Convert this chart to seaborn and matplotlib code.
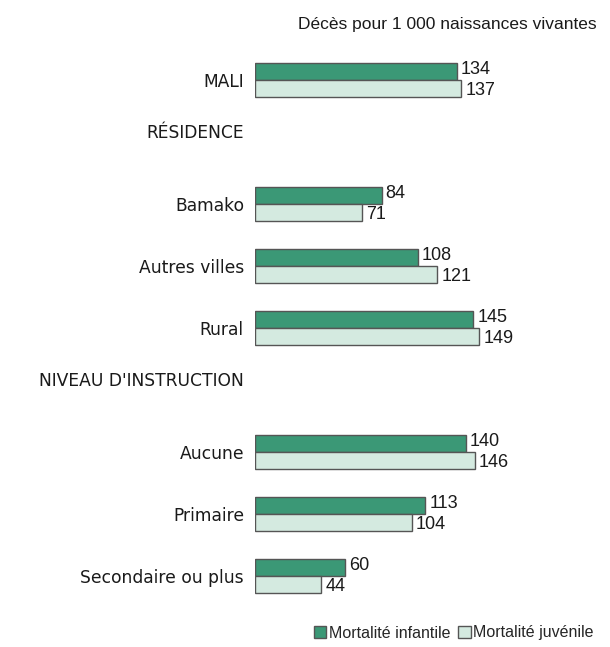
import pandas as pd
import seaborn as sns
import matplotlib.pyplot as plt

# -----------------------------------
# DATA
# -----------------------------------

rows = ["MALI", "RÉSIDENCE", "Bamako", "Autres villes", "Rural",
        "NIVEAU D'INSTRUCTION", "Aucune", "Primaire", "Secondaire ou plus"]
categories = ["MALI", "Bamako", "Autres villes", "Rural",
              "Aucune", "Primaire", "Secondaire ou plus"]
infantile = [134, 84, 108, 145, 140, 113, 60]
juvenile = [137, 71, 121, 149, 146, 104, 44]
series = ["Mortalité infantile", "Mortalité juvénile"]

df = pd.DataFrame({
    "categorie": categories * 2,
    "valeur": infantile + juvenile,
    "serie": [series[0]] * len(categories) + [series[1]] * len(categories),
})

# -----------------------------------
# PLOT
# -----------------------------------

sns.set_style("white")
plt.rcParams["font.family"] = ["Liberation Sans", "DejaVu Sans"]

fig = plt.figure(figsize=(6.1, 6.47), dpi=100)
ax = fig.add_axes([255 / 610, 40 / 647, 345 / 610, 558 / 647])

sns.barplot(
    data=df, y="categorie", x="valeur", hue="serie",
    order=rows, hue_order=series, orient="h",
    palette=["#3b9876", "#d4eae0"], saturation=1, width=0.56,
    edgecolor="#555555", linewidth=1.0, ax=ax,
)

# value labels, pushed slightly apart (dark up, light down)
for cont, dy in zip(ax.containers, [1.5, -1.5]):
    for ann in ax.bar_label(cont, padding=3, fontsize=13, color="#1a1a1a"):
        ann.xyann = (ann.xyann[0], dy)

ax.set_xlim(0, 229)
ax.set_ylim(8.5, -0.5)
ax.set_xlabel("")
ax.set_ylabel("")
ax.set_xticks([])
ax.tick_params(axis="y", length=0, pad=8)
sns.despine(ax=ax, left=True, bottom=True)

# tick labels: wider face, headers sit a bit higher in their slot
for lab in ax.get_yticklabels():
    lab.set_fontfamily(["DejaVu Sans"])
    lab.set_fontsize(12.3)
    lab.set_color("#1a1a1a")
    if lab.get_text() in ("RÉSIDENCE", "NIVEAU D'INSTRUCTION"):
        lab.set_verticalalignment("bottom")

fig.text(597 / 610, 1 - 25 / 647, "Décès pour 1 000 naissances vivantes",
         ha="right", va="center", fontsize=12.5, color="#1a1a1a")

handles, labels = ax.get_legend_handles_labels()
ax.get_legend().remove()
fig.legend(handles, labels, loc="center right", bbox_to_anchor=(0.992, 1 - 633 / 647),
           ncol=2, frameon=False, handlelength=0.8, handleheight=0.7,
           handletextpad=0.15, columnspacing=0.5, fontsize=11.5,
           borderpad=0.2)

plt.savefig("out.png", dpi=100)
